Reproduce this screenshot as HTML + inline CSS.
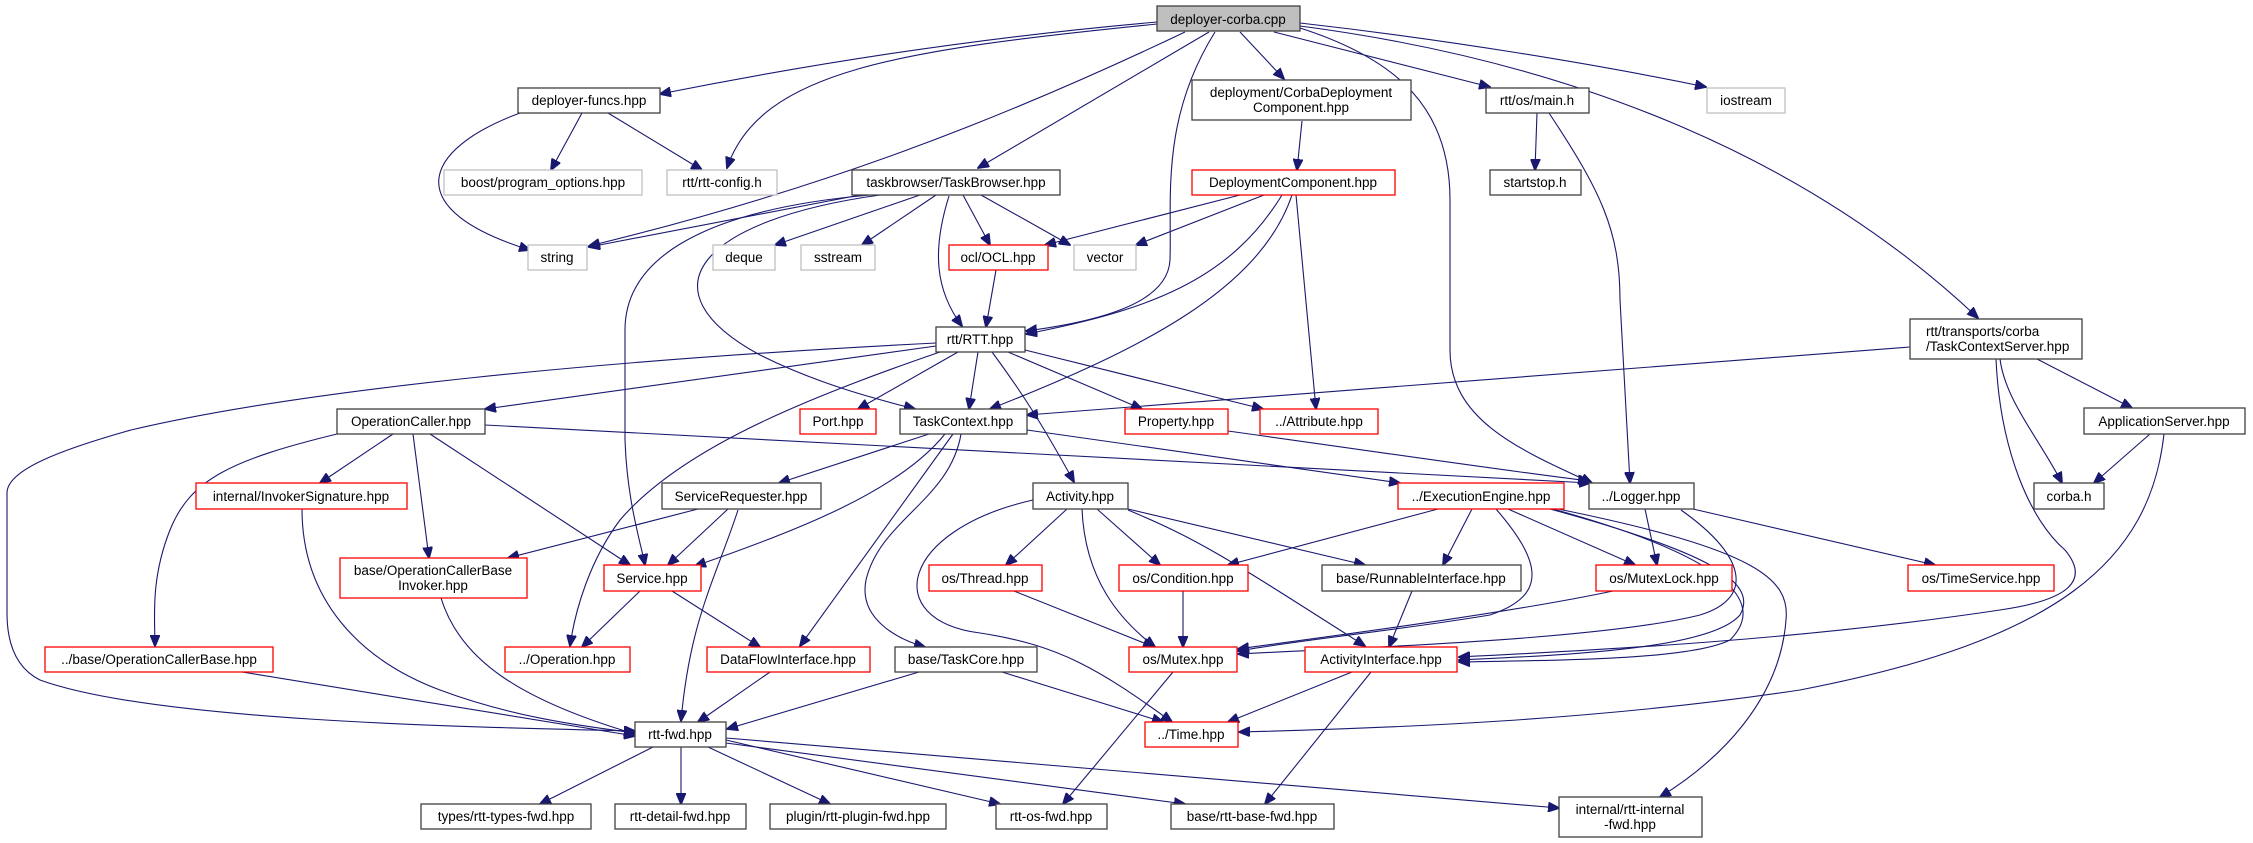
<!DOCTYPE html>
<html><head><meta charset="utf-8"><style>
html,body{margin:0;padding:0;background:#fff;}
svg{display:block;}
text{font-family:"Liberation Sans","DejaVu Sans",sans-serif;font-size:13.5px;fill:#000;text-anchor:middle;}
.k{fill:#fff;stroke:#404040;stroke-width:1.3;}
.g{fill:#fff;stroke:#bfbfbf;stroke-width:1.3;}
.r{fill:#fff;stroke:#ff0000;stroke-width:1.3;}
.e{fill:none;stroke:#191970;stroke-width:1.1;marker-end:url(#a);}
</style></head><body>
<svg width="2253" height="843" viewBox="0 0 2253 843" xmlns="http://www.w3.org/2000/svg">
<defs><marker id="a" markerUnits="userSpaceOnUse" markerWidth="12" markerHeight="10" refX="11" refY="5" orient="auto"><path d="M0,0 L12,5 L0,10 Z" fill="#191970" stroke="#191970"/></marker></defs>

<g>
<path class="e" d="M1157,22 C950,40 780,70 660,94"/>
<path class="e" d="M1157,24 C900,50 760,70 727,168"/>
<path class="e" d="M1185,32 C1000,120 820,190 589,246"/>
<path class="e" d="M1209,32 L978,168"/>
<path class="e" d="M1215,32 C1160,120 1172,200 1170,260 C1168,300 1110,320 1026,331"/>
<path class="e" d="M1240,32 L1284,79"/>
<path class="e" d="M1274,32 L1490,87"/>
<path class="e" d="M1300,23 C1450,40 1600,65 1706,87"/>
<path class="e" d="M1300,26 C1560,60 1800,150 1978,318"/>
<path class="e" d="M1300,28 C1400,60 1450,110 1450,200 L1450,350 C1450,420 1520,450 1592,483"/>
<path class="e" d="M520,113 C420,150 400,210 530,250"/>
<path class="e" d="M582,113 L551,170"/>
<path class="e" d="M608,113 L702,170"/>
<path class="e" d="M1537,113 L1535,170"/>
<path class="e" d="M1549,113 C1600,190 1620,230 1620,300 L1630,483"/>
<path class="e" d="M1302,121 L1297,170"/>
<path class="e" d="M860,195 L589,247"/>
<path class="e" d="M920,195 L775,245"/>
<path class="e" d="M936,195 L862,245"/>
<path class="e" d="M963,195 L990,245"/>
<path class="e" d="M981,195 L1070,245"/>
<path class="e" d="M949,196 C932,250 935,290 962,326"/>
<path class="e" d="M880,195 C700,220 640,290 760,355 C820,385 880,400 915,409"/>
<path class="e" d="M870,195 C700,210 625,260 625,330 L625,440 C627,500 640,540 645,565"/>
<path class="e" d="M1240,195 L1045,245"/>
<path class="e" d="M1264,195 L1136,245"/>
<path class="e" d="M1282,195 C1230,280 1150,310 1026,334"/>
<path class="e" d="M1292,195 C1260,290 1140,350 990,409"/>
<path class="e" d="M1296,195 L1316,409"/>
<path class="e" d="M996,270 L986,327"/>
<path class="e" d="M936,343 C600,360 300,390 131,430 C60,450 7,470 7,493 L7,613 C7,650 20,670 40,680 C150,720 450,727 635,731"/>
<path class="e" d="M936,346 L485,409"/>
<path class="e" d="M940,352 C800,400 680,450 620,520 C590,560 575,610 570,646"/>
<path class="e" d="M958,352 L858,409"/>
<path class="e" d="M978,352 L969,409"/>
<path class="e" d="M992,352 C1020,390 1040,420 1074,482"/>
<path class="e" d="M1008,352 L1142,409"/>
<path class="e" d="M1025,350 L1263,409"/>
<path class="e" d="M1910,347 L1027,415"/>
<path class="e" d="M2000,359 C2005,400 2040,440 2062,483"/>
<path class="e" d="M2037,359 L2132,408"/>
<path class="e" d="M1996,359 C2000,450 2030,520 2065,550 C2090,580 2070,600 2000,610 C1800,640 1600,650 1459,657"/>
<path class="e" d="M2150,434 L2094,483"/>
<path class="e" d="M2164,434 C2150,560 2060,640 1800,690 C1600,720 1400,728 1239,732"/>
<path class="e" d="M929,434 L779,483"/>
<path class="e" d="M945,434 C900,490 800,530 695,566"/>
<path class="e" d="M953,434 L800,646"/>
<path class="e" d="M961,434 C950,500 880,520 866,580 C858,620 900,640 925,647"/>
<path class="e" d="M1027,430 L1400,483"/>
<path class="e" d="M485,425 L1590,483"/>
<path class="e" d="M1228,431 C1400,455 1500,470 1589,481"/>
<path class="e" d="M393,434 L320,483"/>
<path class="e" d="M413,434 L429,558"/>
<path class="e" d="M430,434 L630,565"/>
<path class="e" d="M337,434 C230,460 190,480 170,530 C150,580 155,620 155,646"/>
<path class="e" d="M302,509 C302,600 360,660 440,690 C520,720 600,728 635,733"/>
<path class="e" d="M441,598 C460,660 520,700 635,734"/>
<path class="e" d="M242,672 L635,736"/>
<path class="e" d="M698,509 L508,558"/>
<path class="e" d="M728,509 L668,565"/>
<path class="e" d="M738,510 C715,580 690,620 681,721"/>
<path class="e" d="M640,591 L582,647"/>
<path class="e" d="M672,591 L760,647"/>
<path class="e" d="M770,672 L698,722"/>
<path class="e" d="M919,672 L727,729"/>
<path class="e" d="M1002,672 L1163,722"/>
<path class="e" d="M1067,509 L1006,565"/>
<path class="e" d="M1097,509 L1160,565"/>
<path class="e" d="M1082,509 C1085,580 1120,620 1155,647"/>
<path class="e" d="M1128,509 L1365,565"/>
<path class="e" d="M1128,510 C1200,540 1230,560 1365,646"/>
<path class="e" d="M1033,500 C900,530 880,620 980,633 C1060,645 1100,670 1172,722"/>
<path class="e" d="M1014,591 L1154,647"/>
<path class="e" d="M1183,591 L1183,647"/>
<path class="e" d="M1438,509 L1228,565"/>
<path class="e" d="M1472,509 L1443,565"/>
<path class="e" d="M1508,509 L1635,565"/>
<path class="e" d="M1496,509 C1540,560 1550,595 1490,615 C1400,630 1300,640 1238,651"/>
<path class="e" d="M1550,509 C1700,550 1760,580 1740,615 C1710,650 1560,655 1459,660"/>
<path class="e" d="M1553,509 C1720,555 1770,600 1730,640 C1690,660 1560,660 1459,662"/>
<path class="e" d="M1558,509 C1760,550 1790,580 1786,620 C1780,700 1720,760 1660,797"/>
<path class="e" d="M1681,510 C1752,560 1750,600 1700,615 C1600,640 1350,648 1238,654"/>
<path class="e" d="M1613,591 C1500,615 1300,640 1238,649"/>
<path class="e" d="M1645,509 L1657,565"/>
<path class="e" d="M1693,509 L1935,565"/>
<path class="e" d="M1412,591 L1389,647"/>
<path class="e" d="M1173,672 L1063,804"/>
<path class="e" d="M1352,672 L1228,722"/>
<path class="e" d="M1371,672 L1265,804"/>
<path class="e" d="M653,747 L540,804"/>
<path class="e" d="M681,747 L681,804"/>
<path class="e" d="M708,747 L830,804"/>
<path class="e" d="M726,740 L1000,804"/>
<path class="e" d="M726,743 L1185,804"/>
<path class="e" d="M726,738 L1559,808"/>
</g>

<g>
<rect x="1157" y="6" width="143" height="25" fill="#bfbfbf" stroke="#404040" stroke-width="1.3"/><text x="1228" y="24">deployer-corba.cpp</text>
<rect class="k" x="518" y="88" width="142" height="25"/><text x="589" y="105">deployer-funcs.hpp</text>
<rect class="k" x="1192" y="80" width="219" height="40"/><text x="1301" y="97">deployment/CorbaDeployment</text><text x="1301" y="112">Component.hpp</text>
<rect class="k" x="1486" y="88" width="103" height="25"/><text x="1537" y="105">rtt/os/main.h</text>
<rect class="g" x="1707" y="88" width="78" height="25"/><text x="1746" y="105">iostream</text>
<rect class="g" x="444" y="170" width="198" height="25"/><text x="543" y="187">boost/program_options.hpp</text>
<rect class="g" x="667" y="170" width="110" height="25"/><text x="722" y="187">rtt/rtt-config.h</text>
<rect class="k" x="852" y="170" width="208" height="25"/><text x="956" y="187">taskbrowser/TaskBrowser.hpp</text>
<rect class="r" x="1192" y="170" width="203" height="25"/><text x="1293" y="187">DeploymentComponent.hpp</text>
<rect class="k" x="1490" y="170" width="91" height="25"/><text x="1535" y="187">startstop.h</text>
<rect class="g" x="528" y="245" width="59" height="25"/><text x="557" y="262">string</text>
<rect class="g" x="713" y="245" width="62" height="25"/><text x="744" y="262">deque</text>
<rect class="g" x="801" y="245" width="74" height="25"/><text x="838" y="262">sstream</text>
<rect class="r" x="949" y="245" width="99" height="25"/><text x="998" y="262">ocl/OCL.hpp</text>
<rect class="g" x="1074" y="245" width="62" height="25"/><text x="1105" y="262">vector</text>
<rect class="k" x="936" y="327" width="89" height="25"/><text x="980" y="344">rtt/RTT.hpp</text>
<rect class="k" x="1910" y="319" width="172" height="40"/><text x="1926" y="336" style="text-anchor:start">rtt/transports/corba</text><text x="1926" y="351" style="text-anchor:start">/TaskContextServer.hpp</text>
<rect class="k" x="337" y="409" width="148" height="25"/><text x="411" y="426">OperationCaller.hpp</text>
<rect class="r" x="800" y="409" width="76" height="25"/><text x="838" y="426">Port.hpp</text>
<rect class="k" x="900" y="409" width="127" height="25"/><text x="963" y="426">TaskContext.hpp</text>
<rect class="r" x="1125" y="409" width="103" height="25"/><text x="1176" y="426">Property.hpp</text>
<rect class="r" x="1260" y="409" width="118" height="25"/><text x="1319" y="426">../Attribute.hpp</text>
<rect class="k" x="2084" y="408" width="161" height="26"/><text x="2164" y="426">ApplicationServer.hpp</text>
<rect class="r" x="196" y="483" width="211" height="26"/><text x="301" y="501">internal/InvokerSignature.hpp</text>
<rect class="k" x="662" y="483" width="159" height="26"/><text x="741" y="501">ServiceRequester.hpp</text>
<rect class="k" x="1033" y="483" width="95" height="26"/><text x="1080" y="501">Activity.hpp</text>
<rect class="r" x="1398" y="483" width="166" height="26"/><text x="1481" y="501">../ExecutionEngine.hpp</text>
<rect class="k" x="1589" y="483" width="105" height="26"/><text x="1641" y="501">../Logger.hpp</text>
<rect class="k" x="2034" y="483" width="70" height="26"/><text x="2069" y="501">corba.h</text>
<rect class="r" x="340" y="558" width="187" height="40"/><text x="433" y="575">base/OperationCallerBase</text><text x="433" y="590">Invoker.hpp</text>
<rect class="r" x="604" y="565" width="97" height="26"/><text x="652" y="583">Service.hpp</text>
<rect class="r" x="929" y="565" width="113" height="26"/><text x="985" y="583">os/Thread.hpp</text>
<rect class="r" x="1119" y="565" width="129" height="26"/><text x="1183" y="583">os/Condition.hpp</text>
<rect class="k" x="1322" y="565" width="199" height="26"/><text x="1421" y="583">base/RunnableInterface.hpp</text>
<rect class="r" x="1596" y="565" width="136" height="26"/><text x="1664" y="583">os/MutexLock.hpp</text>
<rect class="r" x="1908" y="565" width="146" height="26"/><text x="1981" y="583">os/TimeService.hpp</text>
<rect class="r" x="45" y="647" width="228" height="25"/><text x="159" y="664">../base/OperationCallerBase.hpp</text>
<rect class="r" x="505" y="647" width="125" height="25"/><text x="567" y="664">../Operation.hpp</text>
<rect class="r" x="707" y="647" width="163" height="25"/><text x="788" y="664">DataFlowInterface.hpp</text>
<rect class="k" x="895" y="647" width="142" height="25"/><text x="966" y="664">base/TaskCore.hpp</text>
<rect class="r" x="1129" y="647" width="108" height="25"/><text x="1183" y="664">os/Mutex.hpp</text>
<rect class="r" x="1305" y="647" width="152" height="25"/><text x="1381" y="664">ActivityInterface.hpp</text>
<rect class="k" x="635" y="722" width="91" height="25"/><text x="680" y="739">rtt-fwd.hpp</text>
<rect class="r" x="1145" y="722" width="93" height="25"/><text x="1191" y="739">../Time.hpp</text>
<rect class="k" x="421" y="804" width="170" height="25"/><text x="506" y="821">types/rtt-types-fwd.hpp</text>
<rect class="k" x="615" y="804" width="131" height="25"/><text x="680" y="821">rtt-detail-fwd.hpp</text>
<rect class="k" x="770" y="804" width="176" height="25"/><text x="858" y="821">plugin/rtt-plugin-fwd.hpp</text>
<rect class="k" x="996" y="804" width="111" height="25"/><text x="1051" y="821">rtt-os-fwd.hpp</text>
<rect class="k" x="1171" y="804" width="163" height="25"/><text x="1252" y="821">base/rtt-base-fwd.hpp</text>
<rect class="k" x="1559" y="797" width="143" height="40"/><text x="1630" y="814">internal/rtt-internal</text><text x="1630" y="829">-fwd.hpp</text>
</g>
</svg>
</body></html>
